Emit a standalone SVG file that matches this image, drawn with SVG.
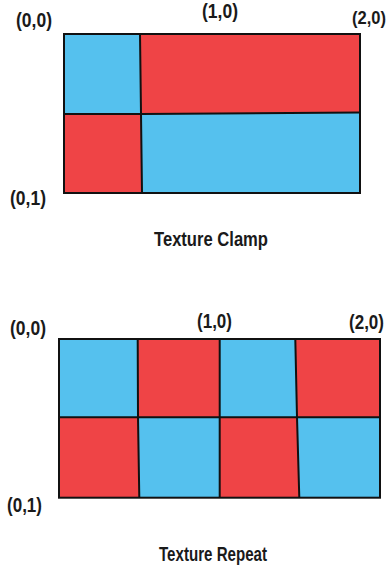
<svg xmlns="http://www.w3.org/2000/svg" width="392" height="566" viewBox="0 0 392 566">
<style>
.b{fill:#55C1EE}
.r{fill:#EF4446}
.ln{fill:none;stroke:#111;stroke-width:2;stroke-linejoin:miter}
.lbl{font-family:"Liberation Sans",Arial,sans-serif;font-weight:bold;font-size:20px;fill:#1a1a1a}
.ttl{font-family:"Liberation Sans",Arial,sans-serif;font-weight:bold;font-size:21px;fill:#1a1a1a}
</style>
<rect width="392" height="566" fill="#fff"/>
<g id="clamp">
<polygon class="b" points="64,34 140,34 141,114 64,114"/>
<polygon class="r" points="140,34 360,34 360,112.5 141,114"/>
<polygon class="r" points="64,114 141,114 142,193 64,193"/>
<polygon class="b" points="141,114 360,112.5 360,193 142,193"/>
<rect class="ln" x="64" y="34" width="296" height="159"/>
<polyline class="ln" points="140,34 141,114 142,193"/>
<polyline class="ln" points="64,114 141,114 360,112.5"/>
<text class="lbl" x="16" y="27" textLength="36" lengthAdjust="spacingAndGlyphs">(0,0)</text>
<text class="lbl" x="202" y="18" textLength="36" lengthAdjust="spacingAndGlyphs">(1,0)</text>
<text class="lbl" x="352" y="24" style="font-size:19px" textLength="34" lengthAdjust="spacingAndGlyphs">(2,0)</text>
<text class="lbl" x="10" y="205" textLength="36" lengthAdjust="spacingAndGlyphs">(0,1)</text>
<text class="ttl" x="154" y="246" textLength="114" lengthAdjust="spacingAndGlyphs">Texture Clamp</text>
</g>
<g id="repeat">
<polygon class="b" points="59,339 137.7,339 138,417.3 59,417.3"/>
<polygon class="r" points="137.7,339 219.7,339 219.7,417.3 138,417.3"/>
<polygon class="b" points="219.7,339 295.3,339 297,417.3 219.7,417.3"/>
<polygon class="r" points="295.3,339 380,339 380,417.3 297,417.3"/>
<polygon class="r" points="59,417.3 138,417.3 139.3,497.7 59,497.7"/>
<polygon class="b" points="138,417.3 219.7,417.3 219.7,497.7 139.3,497.7"/>
<polygon class="r" points="219.7,417.3 297,417.3 299.3,497.7 219.7,497.7"/>
<polygon class="b" points="297,417.3 380,417.3 380,497.7 299.3,497.7"/>
<rect class="ln" x="59" y="339" width="321" height="158.7"/>
<polyline class="ln" points="137.7,339 138,417.3 139.3,497.7"/>
<line class="ln" x1="219.7" y1="339" x2="219.7" y2="497.7"/>
<polyline class="ln" points="295.3,339 297,417.3 299.3,497.7"/>
<line class="ln" x1="59" y1="417.3" x2="380" y2="417.3"/>
<text class="lbl" x="10" y="335" textLength="36" lengthAdjust="spacingAndGlyphs">(0,0)</text>
<text class="lbl" x="197" y="328" textLength="35" lengthAdjust="spacingAndGlyphs">(1,0)</text>
<text class="lbl" x="349" y="329" textLength="35" lengthAdjust="spacingAndGlyphs">(2,0)</text>
<text class="lbl" x="7" y="512" textLength="35" lengthAdjust="spacingAndGlyphs">(0,1)</text>
<text class="ttl" x="159" y="561" textLength="108" lengthAdjust="spacingAndGlyphs">Texture Repeat</text>
</g>
</svg>
